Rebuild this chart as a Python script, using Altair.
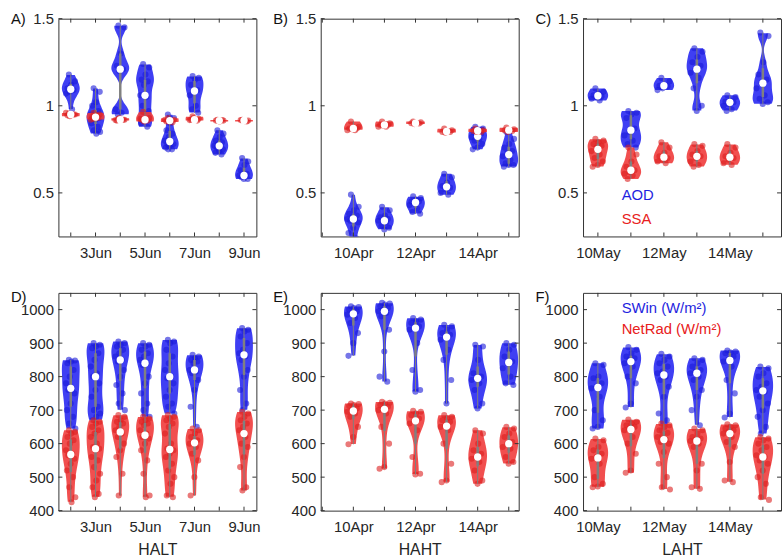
import altair as alt
import pandas as pd

FONT = "Liberation Sans"

# ---------------- data ----------------
# Panel A / D : HALT (June)
A_days = [2, 3, 4, 5, 6, 7, 8, 9]
A_aod = [
    [1.18, 1.14, 1.12, 1.10, 1.09, 1.08, 1.07, 0.98],
    [1.10, 1.08, 1.02, 1.00, 0.97, 0.96, 0.95, 0.94, 0.93, 0.93, 0.92, 0.90, 0.88, 0.86, 0.85, 0.84],
    [1.46, 1.45, 1.30, 1.23, 1.21, 1.20, 0.98, 0.96, 0.95],
    [1.24, 1.22, 1.18, 1.15, 1.14, 1.12, 1.06, 1.05, 1.00, 0.97, 0.92, 0.90, 0.88],
    [0.95, 0.93, 0.90, 0.86, 0.84, 0.82, 0.80, 0.79, 0.78, 0.78, 0.77, 0.76, 0.75, 0.75],
    [1.17, 1.16, 1.15, 1.12, 1.09, 1.08, 1.06, 1.00, 0.98, 0.96],
    [0.86, 0.84, 0.82, 0.80, 0.79, 0.78, 0.77, 0.77, 0.76, 0.75, 0.74, 0.73, 0.72],
    [0.70, 0.68, 0.66, 0.63, 0.61, 0.60, 0.60, 0.60, 0.59, 0.58, 0.58],
]
A_ssa = [
    [0.955, 0.95, 0.95, 0.945, 0.95, 0.94, 0.96],
    [0.96, 0.95, 0.94, 0.935, 0.93, 0.93, 0.92, 0.945, 0.925],
    [0.925, 0.92, 0.92, 0.915, 0.92, 0.93, 0.918],
    [0.965, 0.93, 0.92, 0.92, 0.915, 0.91, 0.925],
    [0.93, 0.92, 0.915, 0.91, 0.905, 0.91, 0.92],
    [0.94, 0.925, 0.92, 0.92, 0.915, 0.93, 0.918],
    [0.92, 0.915, 0.91, 0.915, 0.918, 0.912],
    [0.92, 0.915, 0.912, 0.918, 0.91, 0.916],
]
D_days = [2, 3, 4, 5, 6, 7, 9]
D_swin = [
    [850, 848, 845, 840, 820, 800, 780, 765, 760, 750, 720, 700, 680, 660, 645],
    [900, 895, 890, 885, 870, 850, 830, 810, 800, 780, 760, 740, 710, 700, 690, 680, 670],
    [905, 900, 895, 890, 880, 870, 860, 850, 845, 820, 800, 775, 750, 720, 700],
    [900, 895, 890, 880, 870, 860, 850, 840, 835, 800, 780, 750, 720, 700, 680],
    [910, 905, 900, 880, 860, 840, 820, 800, 795, 780, 760, 740, 720, 710, 690],
    [865, 860, 855, 850, 845, 840, 820, 815, 810, 790, 760, 710, 650],
    [945, 940, 935, 920, 900, 880, 870, 860, 850, 820, 800, 760, 720, 700],
]
D_net = [
    [640, 635, 630, 620, 610, 600, 580, 570, 565, 555, 540, 520, 500, 470, 440, 425],
    [670, 665, 660, 650, 640, 630, 620, 600, 590, 585, 580, 560, 550, 530, 510, 490, 470, 450, 440],
    [685, 680, 670, 665, 660, 650, 640, 630, 620, 600, 580, 560, 510, 445],
    [680, 675, 670, 665, 660, 655, 640, 630, 620, 615, 600, 580, 550, 510, 445, 440],
    [685, 680, 675, 670, 660, 650, 630, 600, 585, 580, 570, 560, 540, 520, 500, 480, 445, 440],
    [645, 640, 630, 620, 610, 605, 600, 590, 570, 550, 500, 445],
    [695, 690, 680, 670, 660, 650, 640, 620, 600, 590, 560, 530, 470, 460],
]

# Panel B / E : HAHT (April)
B_days = [10, 11, 12, 13, 14, 15]
B_aod = [
    [0.49, 0.42, 0.40, 0.38, 0.37, 0.36, 0.35, 0.35, 0.34, 0.33, 0.30, 0.27, 0.24, 0.21],
    [0.42, 0.40, 0.37, 0.36, 0.35, 0.34, 0.34, 0.33, 0.31, 0.30, 0.29],
    [0.48, 0.47, 0.46, 0.45, 0.45, 0.44, 0.43, 0.41, 0.39, 0.38],
    [0.61, 0.59, 0.56, 0.54, 0.53, 0.52, 0.50, 0.49],
    [0.88, 0.87, 0.86, 0.85, 0.84, 0.83, 0.82, 0.81, 0.80, 0.78, 0.76, 0.75],
    [0.85, 0.81, 0.78, 0.76, 0.74, 0.73, 0.71, 0.69, 0.67, 0.66, 0.66, 0.65],
]
B_ssa = [
    [0.91, 0.88, 0.875, 0.87, 0.87, 0.865, 0.86, 0.86],
    [0.91, 0.90, 0.895, 0.89, 0.89, 0.885, 0.88, 0.88],
    [0.91, 0.905, 0.90, 0.90, 0.898, 0.895],
    [0.87, 0.86, 0.855, 0.85, 0.85, 0.845],
    [0.87, 0.86, 0.858, 0.855, 0.85, 0.85],
    [0.875, 0.865, 0.86, 0.86, 0.855, 0.85],
]
E_days = [10, 11, 12, 13, 14, 15]
E_swin = [
    [1010, 1008, 1005, 1000, 995, 990, 985, 975, 960, 930, 900, 862],
    [1020, 1018, 1015, 1010, 1005, 1000, 995, 990, 980, 940, 875, 800, 785],
    [975, 970, 965, 960, 950, 945, 940, 900, 820, 760, 755],
    [955, 950, 940, 930, 925, 918, 910, 880, 850, 790, 720],
    [895, 890, 850, 810, 800, 795, 790, 780, 760, 720, 705],
    [900, 895, 880, 860, 845, 840, 825, 800, 780, 775],
]
E_net = [
    [720, 718, 715, 712, 705, 700, 695, 690, 680, 650, 620, 598],
    [725, 722, 720, 715, 710, 705, 700, 690, 650, 600, 530, 525],
    [698, 695, 690, 685, 675, 668, 660, 640, 560, 510, 508],
    [685, 680, 675, 670, 665, 655, 650, 640, 600, 540, 490, 485],
    [640, 630, 600, 580, 570, 560, 555, 545, 520, 490, 480],
    [650, 645, 630, 620, 605, 600, 590, 585, 560, 545, 540],
]

# Panel C / F : LAHT (May)
C_days_aod = [10, 11, 12, 13, 14, 15]
C_aod = [
    [1.10, 1.08, 1.07, 1.06, 1.055, 1.05, 1.04, 1.03],
    [0.97, 0.96, 0.95, 0.93, 0.87, 0.85, 0.83, 0.80, 0.78, 0.76],
    [1.16, 1.14, 1.12, 1.115, 1.11, 1.10, 1.09],
    [1.33, 1.31, 1.28, 1.25, 1.23, 1.21, 1.19, 1.16, 1.10, 1.00, 0.97],
    [1.06, 1.05, 1.03, 1.025, 1.02, 1.01, 1.00, 0.98, 0.97],
    [1.42, 1.40, 1.25, 1.18, 1.15, 1.13, 1.10, 1.06, 1.04, 1.02, 1.01],
]
C_days_ssa = [10, 11, 12, 13, 14]
C_ssa = [
    [0.81, 0.80, 0.79, 0.78, 0.77, 0.76, 0.74, 0.72, 0.70, 0.68, 0.66, 0.65],
    [0.76, 0.72, 0.68, 0.65, 0.63, 0.62, 0.61, 0.60, 0.58],
    [0.79, 0.76, 0.73, 0.71, 0.70, 0.69, 0.68, 0.67],
    [0.78, 0.77, 0.74, 0.72, 0.71, 0.70, 0.68, 0.66, 0.65],
    [0.78, 0.76, 0.73, 0.71, 0.70, 0.69, 0.67, 0.66],
]
F_days = [10, 11, 12, 13, 14, 15]
F_swin = [
    [840, 835, 800, 795, 780, 770, 765, 740, 700, 670, 650, 645],
    [888, 880, 870, 860, 855, 850, 840, 830, 800, 780, 720, 708],
    [868, 860, 850, 840, 830, 815, 810, 800, 790, 770, 740, 690, 670, 640],
    [855, 850, 840, 830, 820, 815, 810, 800, 790, 760, 740, 700, 655],
    [878, 875, 872, 870, 860, 852, 845, 830, 790, 750, 690, 678],
    [830, 825, 810, 800, 780, 770, 760, 755, 740, 720, 700, 680, 650, 630],
]
F_net = [
    [615, 610, 590, 580, 570, 560, 555, 540, 500, 480, 472, 470],
    [672, 665, 660, 655, 650, 645, 640, 620, 600, 570, 520, 513],
    [660, 655, 650, 640, 632, 625, 620, 612, 605, 600, 575, 540, 500, 470, 463],
    [645, 640, 630, 620, 615, 612, 608, 600, 590, 540, 520, 470, 465],
    [658, 655, 650, 645, 640, 635, 630, 620, 605, 590, 545, 490, 485],
    [620, 615, 610, 600, 590, 580, 565, 560, 550, 540, 520, 500, 480, 440, 432],
]

panel_labels = ["A)", "B)", "C)", "D)", "E)", "F)"]
site_titles = ["HALT", "HAHT", "LAHT"]
months = ["Jun", "Apr", "May"]
top_legend = ["AOD", "SSA"]
bottom_legend = ["SWin (W/m²)", "NetRad (W/m²)"]

# ---------------- build long table ----------------
rows = []


def add(panel, series, days, lists):
    for d, vals in zip(days, lists):
        for j, v in enumerate(vals):
            rows.append({"panel": panel, "series": series, "day": d, "value": v, "j": j})


add("A", "s1", A_days, A_aod)
add("A", "s2", A_days, A_ssa)
add("B", "s1", B_days, B_aod)
add("B", "s2", B_days, B_ssa)
add("C", "s1", C_days_aod, C_aod)
add("C", "s2", C_days_ssa, C_ssa)
add("D", "s1", D_days, D_swin)
add("D", "s2", D_days, D_net)
add("E", "s1", E_days, E_swin)
add("E", "s2", E_days, E_net)
add("F", "s1", F_days, F_swin)
add("F", "s2", F_days, F_net)
df = pd.DataFrame(rows)

# ---------------- styling ----------------
W, H = 200, 220
JIT = 0.2
AX = "#333333"
VIO = {"s1": "#2a2af2", "s2": "#f03c3c"}
PTS = {"s1": "#1a1ad8", "s2": "#dc2020"}
TXT = {"s1": "#1f1fe0", "s2": "#e82020"}

xdoms = {"A": [1.5, 9.5], "B": [8.95, 15.32], "C": [9.55, 15.55]}
xlabs = {"A": [3, 5, 7, 9], "B": [10, 12, 14], "C": [10, 12, 14]}
halfw = {"A": 0.36, "B": 0.3, "C": 0.31}
top_y = {"dom": [0.25, 1.5], "ticks": [0.5, 1, 1.5], "ext": [0.1, 1.6], "bw": 0.04}
bot_y = {"dom": [400, 1050], "ticks": [400, 500, 600, 700, 800, 900, 1000],
         "ext": [380, 1060], "bw": 34}

panel_defs = [
    ("A", "A", 0, top_y, None), ("B", "B", 1, top_y, None), ("C", "C", 2, top_y, None),
    ("D", "A", 0, bot_y, site_titles[0]), ("E", "B", 1, bot_y, site_titles[1]),
    ("F", "C", 2, bot_y, site_titles[2]),
]


def make_panel(key, xkey, col, yd, title, label):
    HW = halfw[xkey]
    xs = alt.Scale(domain=xdoms[xkey], nice=False, zero=False)
    ys = alt.Scale(domain=yd["dom"], nice=False, zero=False)
    xax = alt.Axis(values=xlabs[xkey], labelExpr=f"datum.value + '{months[col]}'",
                   title=title, grid=False, domain=False, ticks=False,
                   labelPadding=9, labelFlush=False, labelOverlap=False, titlePadding=7)
    yax = alt.Axis(values=yd["ticks"], labelExpr="'' + datum.value", title=None, grid=False,
                   domain=False, ticks=False, labelPadding=5, labelFlush=False,
                   labelOverlap=False)

    base = alt.Chart(df).transform_filter(alt.datum.panel == key)
    layers = []
    for s in ["s1", "s2"]:
        b = base.transform_filter(alt.datum.series == s)
        vio = (
            b.transform_joinaggregate(vmin="min(value)", vmax="max(value)", groupby=["day"])
            .transform_density("value", as_=["v", "dens"], groupby=["day", "vmin", "vmax"],
                               extent=yd["ext"], steps=500, bandwidth=yd["bw"])
            .transform_filter("datum.v >= datum.vmin && datum.v <= datum.vmax")
            .transform_joinaggregate(maxd="max(dens)", groupby=["day"])
            .transform_calculate(
                xl=f"datum.day - {HW} * datum.dens / datum.maxd",
                xr=f"datum.day + {HW} * datum.dens / datum.maxd",
            )
            .mark_area(orient="horizontal", color=VIO[s], opacity=0.9, clip=True)
            .encode(
                x=alt.X("xl:Q", scale=xs, axis=xax, stack=False),
                x2="xr:Q",
                y=alt.Y("v:Q", scale=ys, axis=yax),
                detail="day:N",
            )
        )
        pts = (
            b.transform_calculate(
                xj=f"datum.day + {JIT} * ((((datum.j + 0.5) * 0.618034) % 1) * 2 - 1)")
            .mark_circle(size=38, color=PTS[s], opacity=0.6, clip=True)
            .encode(x=alt.X("xj:Q", scale=xs, axis=xax), y=alt.Y("value:Q", scale=ys, axis=yax))
        )
        st = b.transform_aggregate(
            med="median(value)", q1="q1(value)", q3="q3(value)",
            lo="min(value)", hi="max(value)", groupby=["day"])
        wh = st.mark_rule(color="#808080", strokeWidth=1, clip=True).encode(
            x=alt.X("day:Q", scale=xs, axis=xax), y=alt.Y("lo:Q", scale=ys, axis=yax), y2="hi:Q")
        bx = st.mark_rule(color="#808080", strokeWidth=2.5, clip=True).encode(
            x=alt.X("day:Q", scale=xs, axis=xax), y=alt.Y("q1:Q", scale=ys, axis=yax), y2="q3:Q")
        md = st.mark_point(filled=True, color="white", size=55, opacity=1, clip=True).encode(
            x=alt.X("day:Q", scale=xs, axis=xax), y=alt.Y("med:Q", scale=ys, axis=yax))
        layers += [vio, pts, wh, bx, md]

    # inward tick marks (box style)
    lo, hi = xdoms[xkey]
    xt = pd.DataFrame({"t": [d for d in range(int(lo) + 1, int(hi) + 1) if lo <= d <= hi]})
    yt = pd.DataFrame({"t": yd["ticks"]})
    for y1, y2 in [(H, H - 4), (0, 4)]:
        layers.append(alt.Chart(xt).mark_rule(color=AX, strokeWidth=1).encode(
            x=alt.X("t:Q", scale=xs, axis=xax), y=alt.value(y1), y2=alt.value(y2)))
    for x1, x2 in [(0, 4), (W, W - 4)]:
        layers.append(alt.Chart(yt).mark_rule(color=AX, strokeWidth=1).encode(
            y=alt.Y("t:Q", scale=ys, axis=yax), x=alt.value(x1), x2=alt.value(x2)))

    one = alt.Data(values=[{}])
    ly = 0 if yd is top_y else 4
    layers.append(alt.Chart(one).mark_text(
        text=label, align="left", baseline="middle", fontSize=15, font=FONT, color="#111111"
    ).encode(x=alt.value(-48), y=alt.value(ly)))

    if key == "C":
        for i, s in enumerate(["s1", "s2"]):
            layers.append(alt.Chart(one).mark_text(
                text=top_legend[i], align="left", baseline="middle", fontSize=15, font=FONT,
                color=TXT[s]).encode(x=alt.value(39), y=alt.value(178 + 24 * i)))
    if key == "F":
        for i, s in enumerate(["s1", "s2"]):
            layers.append(alt.Chart(one).mark_text(
                text=bottom_legend[i], align="left", baseline="middle", fontSize=15, font=FONT,
                color=TXT[s]).encode(x=alt.value(39), y=alt.value(15 + 22 * i)))

    return alt.layer(*layers).properties(width=W, height=H)


charts = [make_panel(k, xk, c, yd, t, panel_labels[i])
          for i, (k, xk, c, yd, t) in enumerate(panel_defs)]

chart = (
    alt.concat(*charts, columns=3, spacing=alt.RowColnumber(row=57, column=65), bounds="flush")
    .resolve_scale(x="independent", y="independent")
    .properties(padding={"left": 10, "top": 8, "right": 0, "bottom": 0})
    .configure_view(stroke=AX, strokeWidth=1)
    .configure_axis(labelFont=FONT, labelFontSize=15, labelColor="#262626",
                    titleFont=FONT, titleFontSize=16, titleFontWeight="normal",
                    titleColor="#262626")
)

chart.save("out.html", embed_options={"renderer": "svg", "actions": False})
